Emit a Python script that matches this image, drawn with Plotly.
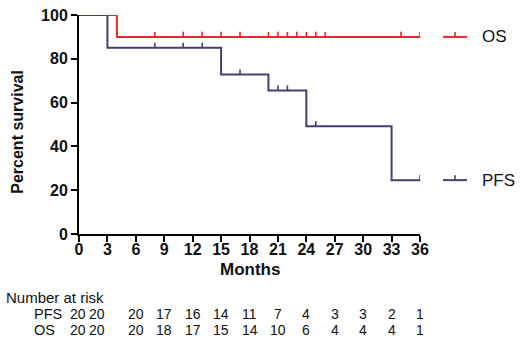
import plotly.graph_objects as go

# ---- data ----
os_times = [0, 4, 36]
os_surv = [100, 90, 90]
pfs_times = [0, 3, 15, 20, 24, 33, 36]
pfs_surv = [100, 85, 72.86, 65.57, 49.18, 24.59, 24.59]
os_censor = [8, 11, 13, 15, 17, 20, 21, 22, 23, 24, 25, 26, 34, 36]
pfs_censor = [8, 11, 13, 17, 21, 22, 25, 36]
risk_times = [0, 3, 6, 9, 12, 15, 18, 21, 24, 27, 30, 33, 36]
risk_pfs = [20, 20, 20, 17, 16, 14, 11, 7, 4, 3, 3, 2, 1]
risk_os = [20, 20, 20, 18, 17, 15, 14, 10, 6, 4, 4, 4, 1]
x_ticks = list(range(0, 37, 3))
y_ticks = [0, 20, 40, 60, 80, 100]

RED = "#e8262b"
PURPLE = "#4a3d78"
FONT = "Liberation Sans"


def step_value(times, surv, t):
    v = surv[0]
    for tt, s in zip(times, surv):
        if tt <= t:
            v = s
    return v


fig = go.Figure()


def add_curve(times, surv, cens, color):
    fig.add_trace(go.Scatter(x=times, y=surv, mode="lines", line=dict(color=color, width=2, shape="hv"),
                             cliponaxis=False, showlegend=False, hoverinfo="skip"))
    cy = [step_value(times, surv, t) for t in cens]
    fig.add_trace(go.Scatter(x=cens, y=cy, mode="markers", marker=dict(size=1, color=color),
                             error_y=dict(type="data", symmetric=False, array=[2.3] * len(cens),
                                          arrayminus=[0] * len(cens), width=0, thickness=1.6, color=color),
                             cliponaxis=False, showlegend=False, hoverinfo="skip"))


add_curve(os_times, os_surv, os_censor, RED)
add_curve(pfs_times, pfs_surv, pfs_censor, PURPLE)

L, R, T, B = 79, 100, 7, 111
W, H = 520, 345
pw, ph = W - L - R, H - T - B


def px_to_paper_x(px):
    return (px - L) / pw


def px_to_paper_y(py):
    return (H - B - py) / ph


shapes = []
annotations = []
# legend
for name, color, level in [("OS", RED, 90), ("PFS", PURPLE, pfs_surv[-1])]:
    yp = level / 100.0
    shapes.append(dict(type="line", xref="paper", yref="paper", x0=px_to_paper_x(443), x1=px_to_paper_x(467),
                       y0=yp, y1=yp, line=dict(color=color, width=2)))
    shapes.append(dict(type="line", xref="paper", yref="paper", x0=px_to_paper_x(455), x1=px_to_paper_x(455),
                       y0=yp, y1=yp + 5 / ph, line=dict(color=color, width=1.6)))
    annotations.append(dict(text=name, xref="paper", yref="paper", x=px_to_paper_x(480), y=yp,
                            xanchor="left", yanchor="middle", showarrow=False,
                            font=dict(family=FONT, size=17, color="#111")))

annotations.append(dict(text="Months", xref="paper", yref="paper", x=0.5, y=px_to_paper_y(271),
                        xanchor="center", yanchor="middle", showarrow=False,
                        font=dict(family=FONT, size=17, color="#111", weight="bold")))
annotations.append(dict(text="Percent survival", xref="paper", yref="paper", x=px_to_paper_x(18),
                        y=px_to_paper_y(128), xanchor="center", yanchor="middle", textangle=-90,
                        showarrow=False, font=dict(family=FONT, size=16, color="#111", weight="bold")))
annotations.append(dict(text="Number at risk", xref="paper", yref="paper", x=px_to_paper_x(4),
                        y=px_to_paper_y(300), xanchor="left", yanchor="middle", showarrow=False,
                        font=dict(family=FONT, size=15, color="#111")))
for label, row, py in [("PFS", risk_pfs, 317), ("OS", risk_os, 334)]:
    annotations.append(dict(text=label, xref="paper", yref="paper", x=px_to_paper_x(32),
                            y=px_to_paper_y(py), xanchor="left", yanchor="middle", showarrow=False,
                            font=dict(family=FONT, size=14.5, color="#111")))
    for t, n in zip(risk_times, row):
        shift = -1 if t == 0 else (-10 if t == 3 else 0)
        annotations.append(dict(text=str(n), xref="x", yref="paper", x=t, y=px_to_paper_y(py),
                                xanchor="center", yanchor="middle", showarrow=False,
                                xshift=shift,
                                font=dict(family=FONT, size=14, color="#111")))

fig.update_layout(
    width=W, height=H, margin=dict(l=L, r=R, t=T, b=B),
    paper_bgcolor="white", plot_bgcolor="white",
    shapes=shapes, annotations=annotations, showlegend=False,
    xaxis=dict(range=[0, 36], tickvals=x_ticks, showline=True, linecolor="black", linewidth=2,
               ticks="outside", ticklen=6, tickwidth=2, tickcolor="black", showgrid=False, zeroline=False,
               ticklabeloverflow="allow", ticklabelstandoff=-6,
               tickfont=dict(family=FONT, size=16, color="#111", weight="bold")),
    yaxis=dict(range=[0, 100], tickvals=y_ticks, showline=True, linecolor="black", linewidth=2,
               ticks="outside", ticklen=6, tickwidth=2, tickcolor="black", showgrid=False, zeroline=False,
               ticklabeloverflow="allow",
               tickfont=dict(family=FONT, size=16, color="#111", weight="bold")),
)

fig.write_html("out.html", config={"displayModeBar": False},
               post_script="document.body.style.margin='0';document.body.style.overflow='hidden';")
